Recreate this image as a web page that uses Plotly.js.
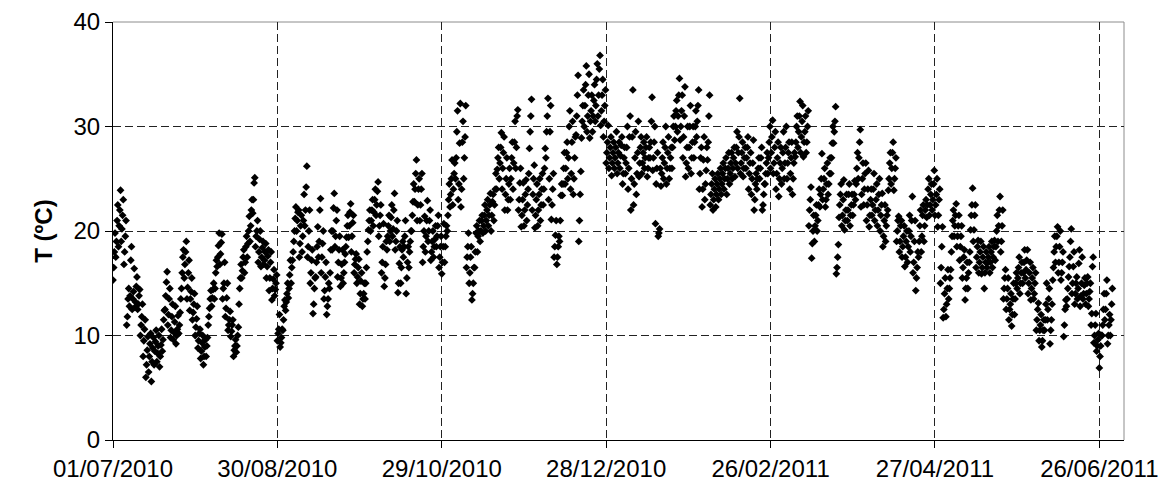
<!DOCTYPE html>
<html>
<head>
<meta charset="utf-8">
<script src="https://cdn.plot.ly/plotly-3.0.1.min.js"></script>
<style>
  html, body { margin: 0; padding: 0; background: #fff; }
  #chart { width: 1160px; height: 486px; }
</style>
</head>
<body>
<div id="chart"></div>
<script>
// Temperature readings (ºC), four readings per day, one inner array per day
const startDate = '2010-07-01';

const jul2010 = [
  [15.3,16.5,18.0,19.8],[17.5,19.0,21.0,22.5],[18.5,20.5,22.0,23.9],[19.0,20.2,21.5,23.0],[16.8,18.0,19.5,21.0],
  [11.0,11.8,13.5,14.5],[12.8,13.8,17.2,18.5],[12.5,13.5,14.2,16.4],[12.7,13.2,14.7,15.6],[12.5,13.0,13.8,14.4],
  [10.0,11.0,11.8,13.0],[8.0,9.5,10.6,11.5],[6.0,7.2,8.6,9.9],[6.5,8.0,9.2,10.2],[5.6,7.5,8.8,9.8],
  [7.2,8.5,9.4,10.5],[7.5,8.3,9.0,10.0],[7.0,8.0,9.1,10.6],[8.5,9.6,11.5,12.4],[12.5,13.8,15.1,16.1],
  [11.0,12.0,13.5,14.5],[9.8,10.5,11.8,13.0],[9.6,10.3,11.3,12.8],[9.2,10.0,10.6,11.9],[10.2,11.0,12.2,13.5],
  [14.5,16.0,17.5,18.2],[15.5,16.8,18.0,19.0],[13.5,14.6,16.0,17.2],[12.4,13.5,14.2,15.5],[11.5,12.2,13.0,14.0],
  [10.0,10.8,11.6,12.8]
];
const aug2010 = [
  [8.8,9.5,10.2,10.6],[7.8,8.5,9.3,10.0],[7.2,8.0,8.9,9.6],[8.0,9.0,9.8,11.0],[11.8,12.6,13.5,14.3],
  [12.8,13.6,14.4,15.0],[13.5,14.5,16.0,17.2],[16.6,17.5,18.6,19.8],[16.8,17.8,18.9,19.7],[13.5,14.5,15.0,17.0],
  [11.8,12.6,13.6,15.0],[10.5,11.0,11.5,12.3],[9.9,10.4,11.0,11.5],[8.0,8.6,9.0,9.6],[8.4,9.0,10.0,10.8],
  [13.0,14.5,15.5,16.8],[15.5,16.2,17.5,18.2],[16.0,17.0,18.5,19.5],[17.5,18.8,20.0,21.4],[19.0,20.5,22.0,23.0],
  [21.7,23.0,24.6,25.1],[18.5,19.5,20.0,21.0],[17.0,18.0,19.2,20.0],[16.6,17.5,18.4,19.0],[16.8,17.2,18.0,18.8],
  [15.5,16.6,17.6,18.2],[14.3,15.5,17.0,18.0],[13.4,14.5,15.4,16.3],[13.8,14.4,15.0,15.8],[9.5,10.2,10.6,12.0],
  [8.9,9.3,9.8,10.6]
];
const sep2010 = [
  [10.5,11.5,12.8,13.4],[12.4,13.2,14.0,15.0],[13.6,14.5,15.8,17.2],[15.0,16.5,17.2,18.0],[19.0,20.0,21.2,22.3],
  [20.0,21.0,21.8,22.0],[17.5,18.8,20.5,21.5],[18.0,19.5,21.0,23.5],[20.5,22.0,24.2,26.2],[17.5,18.5,20.0,22.0],
  [15.0,16.0,17.2,18.2],[12.1,13.0,14.5,15.5],[15.6,17.0,18.5,20.4],[17.5,19.0,22.0,23.1],[16.0,17.5,18.8,20.0],
  [13.5,14.3,15.6,17.0],[12.0,12.8,13.5,15.0],[14.5,16.0,18.2,20.0],[18.2,20.0,22.2,23.6],[18.5,19.5,21.0,22.0],
  [15.6,17.0,18.2,19.5],[14.7,15.5,16.8,18.2],[15.0,16.0,17.0,17.8],[18.5,19.4,20.5,21.5],[19.4,20.5,21.8,22.6],
  [18.0,19.5,20.8,21.5],[16.0,16.8,17.3,17.8],[15.0,15.6,16.5,17.3],[13.0,14.0,15.2,16.0],[12.8,13.5,14.0,15.0]
];
const oct2010 = [
  [13.5,15.0,16.5,18.0],[19.0,20.1,21.0,22.0],[20.0,21.0,22.0,23.0],[20.5,21.8,23.0,24.0],[21.5,22.5,23.8,24.7],
  [19.5,20.5,21.5,22.5],[16.0,17.0,18.5,20.7],[14.7,15.5,16.8,19.0],[18.2,19.5,20.5,21.5],[19.0,20.0,21.3,22.5],
  [19.5,20.2,22.0,23.6],[18.2,19.0,20.0,21.0],[14.1,15.0,16.9,18.5],[15.0,16.5,18.2,19.0],[17.5,18.5,19.5,21.0],
  [14.0,15.5,17.0,18.5],[16.5,18.0,19.0,20.0],[20.0,21.5,22.8,24.5],[22.8,24.0,25.5,26.8],[21.0,22.5,24.0,25.0],
  [21.0,22.5,24.0,25.5],[17.0,18.5,20.0,21.4],[18.0,19.5,21.0,22.9],[19.0,20.0,21.0,22.0],[17.2,18.0,19.0,20.0],
  [17.5,18.5,19.2,20.5],[18.5,19.5,20.5,21.5],[16.5,17.5,18.5,19.5],[15.9,17.0,18.5,20.7],[17.0,18.5,19.5,20.5],
  [20.0,21.5,23.0,24.5]
];
const nov2010 = [
  [22.3,23.5,25.0,26.8],[22.5,24.0,25.5,26.5],[25.0,27.0,29.5,31.5],[23.0,24.5,28.4,32.2],[22.3,24.0,28.5,30.5],
  [25.0,27.0,29.0,32.0],[16.5,17.5,18.5,19.8],[15.0,16.0,17.5,18.5],[13.4,14.0,15.0,16.5],[16.5,18.0,19.8,20.5],
  [18.0,19.5,20.0,21.0],[19.0,20.0,21.0,21.5],[19.8,20.5,21.5,22.5],[20.0,21.0,22.0,23.0],[20.5,21.5,22.5,23.6],
  [20.0,21.5,22.8,23.5],[21.0,22.5,24.0,25.5],[24.0,25.9,27.0,28.0],[25.0,26.5,28.0,29.4],[24.0,26.0,27.5,29.0],
  [22.0,23.5,25.0,27.0],[22.0,23.0,24.5,26.0],[23.0,25.0,27.0,28.5],[24.0,26.5,28.5,30.5],[26.0,28.0,31.0,31.6],
  [22.0,23.0,24.6,26.0],[20.4,21.5,23.0,24.6],[20.5,22.0,23.5,24.9],[21.0,22.5,24.0,25.5],[27.9,29.5,31.0,32.6]
];
const dec2010 = [
  [22.0,23.5,25.0,26.3],[20.3,21.5,23.0,24.5],[20.5,22.0,23.5,25.0],[21.0,22.5,24.0,25.5],[22.5,24.0,26.0,27.9],
  [27.0,29.5,31.0,32.7],[23.0,25.0,29.5,32.0],[21.1,22.5,24.0,25.5],[17.5,18.5,19.6,21.0],[16.8,17.5,18.5,19.5],
  [19.0,21.0,23.4,24.5],[23.4,24.5,26.0,27.5],[24.5,26.0,27.5,28.5],[25.0,27.0,30.0,31.5],[24.0,25.5,28.5,30.5],
  [23.5,25.0,27.0,29.0],[29.2,31.0,33.0,34.9],[19.0,21.0,23.5,25.7],[28.9,30.5,32.0,33.5],[30.0,32.0,34.0,35.8],
  [29.5,31.0,33.0,35.0],[28.9,30.5,31.5,33.0],[29.5,31.0,32.5,34.0],[30.5,32.0,34.5,36.0],[31.0,33.0,35.5,36.8],
  [30.1,31.5,33.0,34.5],[29.0,30.5,32.0,33.5],[26.5,27.5,28.5,30.1],[26.0,27.0,28.0,29.0],[25.3,26.5,27.5,28.5],
  [26.0,27.0,28.0,29.5]
];
const jan2011 = [
  [25.5,26.5,27.5,28.5],[26.0,27.2,28.2,29.0],[24.5,25.5,27.0,28.0],[25.5,26.5,28.0,30.0],[24.0,26.0,29.0,31.0],
  [22.0,25.0,29.0,33.5],[22.5,24.5,27.0,29.5],[23.5,25.5,27.5,30.5],[25.2,26.5,28.0,29.0],[25.5,26.5,27.5,28.5],
  [26.0,27.0,28.0,29.0],[25.2,26.0,27.0,28.0],[27.0,28.5,30.5,32.8],[25.8,27.0,28.5,30.0],[20.7,24.5,26.0,27.5],
  [19.5,19.8,20.2,26.0],[24.3,25.5,27.0,28.5],[25.0,26.5,28.0,30.0],[24.5,26.0,27.5,29.0],[25.0,26.0,27.0,28.0],
  [26.0,28.0,30.0,31.0],[28.7,30.0,31.5,32.5],[29.5,31.0,33.0,34.6],[28.7,30.0,31.5,33.0],[27.0,29.0,31.0,33.8],
  [25.2,26.5,28.0,30.0],[26.0,28.0,30.0,32.0],[25.5,27.0,28.5,30.0],[27.0,28.5,30.0,31.5],[29.0,30.5,32.0,33.5],
  [24.0,25.5,27.0,28.0]
];
const feb2011 = [
  [22.3,24.0,26.8,29.0],[23.0,24.5,25.8,28.0],[26.8,28.5,31.0,33.0],[22.5,23.5,24.5,25.5],[22.0,23.0,24.0,25.0],
  [22.3,23.5,24.5,25.5],[23.0,24.0,25.0,26.0],[23.5,24.5,25.5,26.5],[24.0,25.0,26.0,27.0],[23.5,25.0,26.0,27.5],
  [24.5,25.5,26.5,27.5],[25.0,26.0,27.0,28.0],[25.2,26.5,28.0,29.5],[26.0,27.5,29.0,32.7],[25.5,26.5,27.5,28.5],
  [25.2,26.0,27.0,28.0],[26.0,27.0,28.0,29.0],[24.0,25.5,26.5,27.5],[23.5,25.0,26.5,28.7],[22.0,23.0,24.5,25.5],
  [24.0,25.0,26.0,27.0],[25.0,26.0,27.0,28.0],[22.0,22.5,23.5,24.5],[24.5,25.5,26.5,27.5],[25.5,27.0,28.5,30.0],
  [26.0,27.5,29.0,30.6],[25.5,26.5,28.0,29.5],[24.0,25.5,27.0,28.5]
];
const mar2011 = [
  [23.3,25.0,26.5,28.0],[24.5,26.0,27.5,29.5],[25.0,26.5,28.0,30.0],[25.0,26.5,27.5,28.5],[24.0,25.5,27.0,28.5],
  [23.5,25.0,26.5,27.5],[27.1,28.5,30.0,31.0],[28.0,29.5,31.0,32.4],[27.5,29.0,30.5,32.0],[27.1,28.5,29.5,31.0],
  [27.5,28.5,30.0,31.5],[20.5,22.0,23.0,24.2],[17.4,18.8,20.0,21.5],[19.0,20.5,21.5,22.5],[20.0,21.0,22.5,24.0],
  [22.3,23.5,25.0,27.4],[23.0,24.0,25.0,26.0],[22.3,23.0,24.5,26.5],[23.5,24.5,25.5,27.0],[25.5,27.0,28.4,30.0],
  [28.4,29.5,30.5,31.9],[15.9,16.5,17.5,18.7],[21.3,22.5,23.5,24.5],[20.5,21.5,23.0,24.9],[20.1,21.0,22.0,23.5],
  [21.0,22.0,23.5,24.5],[20.5,21.5,22.5,23.5],[21.5,22.5,23.5,24.8],[23.0,24.5,26.0,27.5],[25.0,27.0,28.5,29.7],
  [22.3,23.5,25.0,26.5]
];
const apr2011 = [
  [22.5,24.0,25.5,26.5],[21.0,22.5,24.0,25.8],[20.4,21.5,23.0,24.0],[21.5,22.5,24.0,25.5],[21.0,22.0,23.0,24.5],
  [20.5,22.0,23.5,25.0],[20.0,21.5,22.5,23.6],[18.5,19.5,21.0,22.5],[19.0,20.5,21.5,22.0],[23.9,25.0,26.5,27.5],
  [24.5,26.0,27.5,28.5],[23.9,25.0,26.0,27.0],[19.0,20.0,21.0,21.4],[18.0,19.0,20.5,21.0],[17.5,18.5,19.5,20.5],
  [16.6,17.5,19.0,20.0],[17.0,18.5,20.0,21.5],[18.0,19.5,21.0,23.3],[16.0,17.0,19.0,21.0],[14.3,15.5,16.5,18.0],
  [17.5,19.0,20.5,22.0],[18.0,19.5,21.5,22.5],[19.0,20.5,22.0,23.0],[21.3,22.5,24.0,25.0],[21.5,22.5,23.5,24.5],
  [22.0,23.0,24.5,25.8],[21.5,22.5,23.5,25.0],[20.4,21.5,23.0,24.0],[15.0,16.5,18.5,20.4],[11.7,12.5,14.0,15.5]
];
const may2011 = [
  [11.8,13.0,14.5,16.3],[13.5,14.5,15.5,16.3],[18.0,19.5,21.0,22.0],[19.5,20.5,21.5,22.6],[18.5,19.5,20.5,21.5],
  [17.2,18.5,19.5,20.5],[15.5,16.5,17.5,18.2],[13.4,14.5,15.5,17.0],[14.5,16.0,17.0,18.0],[20.1,21.5,22.5,24.1],
  [19.0,20.1,21.5,22.5],[16.5,17.5,18.5,19.1],[16.0,17.0,18.0,19.0],[15.9,16.5,17.5,18.5],[14.5,16.0,17.0,18.0],
  [16.5,17.0,17.5,18.5],[16.0,17.0,18.0,19.0],[16.5,17.5,18.5,19.1],[17.2,18.5,20.0,21.5],[19.0,20.5,22.0,23.3],
  [18.0,19.0,20.5,22.0],[13.5,14.5,15.5,16.3],[12.5,13.5,14.5,15.5],[11.5,12.5,13.0,14.0],[10.9,12.0,13.5,15.0],
  [12.0,13.5,15.0,16.0],[14.5,15.5,16.5,17.5],[14.0,15.0,16.0,17.0],[15.0,16.0,17.0,18.2],[15.5,16.3,17.2,18.2],
  [14.0,15.0,16.0,17.0]
];
const jun2011 = [
  [13.4,14.5,15.5,16.5],[13.5,14.0,15.0,16.0],[10.5,11.5,12.5,13.1],[9.5,10.5,11.0,12.0],[8.9,9.5,10.5,11.5],
  [10.5,11.5,13.0,15.0],[11.5,12.5,13.5,14.5],[9.2,10.5,11.5,13.0],[15.3,16.5,18.0,19.5],[17.0,18.5,19.5,20.4],
  [16.0,17.0,18.5,20.0],[15.3,16.0,17.0,18.0],[9.9,11.0,12.5,13.4],[12.8,13.5,14.5,15.6],[16.6,17.5,19.0,20.2],
  [14.0,15.0,16.6,18.0],[13.0,14.0,15.0,15.6],[13.5,14.5,16.9,18.2],[12.8,13.8,15.0,17.5],[13.5,14.0,14.8,15.5],
  [13.0,14.0,15.0,15.6],[12.8,13.5,14.2,15.0],[11.0,12.1,16.6,17.5],[9.3,10.0,11.0,12.1],[8.5,9.0,9.6,10.2],
  [6.9,8.0,9.0,10.0],[10.0,11.0,12.5,14.0],[11.5,12.5,14.0,15.3],[9.2,10.0,11.0,12.0],[10.0,11.5,13.0,14.5]
];

const tickDates = ['2010-07-01','2010-08-30','2010-10-29','2010-12-28','2011-02-26','2011-04-27','2011-06-26'];
const tickLabels = ['01/07/2010','30/08/2010','29/10/2010','28/12/2010','26/02/2011','27/04/2011','26/06/2011'];
const xRange = ['2010-07-01', '2011-07-05'];
const yTicks = [0, 10, 20, 30, 40];

// Build the series: each day's readings at 00h, 06h, 12h, 18h
const months = [jul2010, aug2010, sep2010, oct2010, nov2010, dec2010, jan2011, feb2011, mar2011, apr2011, may2011, jun2011];
const days = [].concat(...months);
const t0 = Date.parse(startDate + 'T00:00:00Z');
const xs = [], ys = [];
days.forEach((readings, d) => {
  readings.forEach((v, j) => {
    const t = new Date(t0 + (d * 24 + j * 6) * 3600 * 1000);
    xs.push(t.toISOString().slice(0, 16).replace('T', ' '));
    ys.push(v);
  });
});

const FONT = 'Liberation Sans, Arial, sans-serif';
const trace = {
  type: 'scatter', mode: 'markers', x: xs, y: ys,
  marker: { symbol: 'diamond', size: 6, color: '#000', line: { width: 0 } },
  hoverinfo: 'skip'
};

const layout = {
  width: 1160, height: 486,
  margin: { l: 113, r: 36, t: 22, b: 46 },
  paper_bgcolor: '#fff', plot_bgcolor: '#fff',
  showlegend: false,
  font: { family: FONT, color: '#000', size: 24 },
  xaxis: {
    type: 'date', range: xRange, autorange: false,
    tickmode: 'array', tickvals: tickDates, ticktext: tickLabels,
    ticks: 'outside', ticklen: 7, tickcolor: '#000', tickwidth: 1,
    showline: true, linecolor: '#000', linewidth: 1,
    showgrid: true, gridcolor: '#222', gridwidth: 1, griddash: '8px,4px',
    zeroline: false,
    tickfont: { family: FONT, size: 24, color: '#000' },
    automargin: false
  },
  yaxis: {
    range: [0, 40], autorange: false,
    tickmode: 'array', tickvals: yTicks,
    ticks: 'outside', ticklen: 7, tickcolor: '#000', tickwidth: 1,
    showline: true, linecolor: '#000', linewidth: 1,
    showgrid: true, gridcolor: '#222', gridwidth: 1, griddash: '8px,4px',
    zeroline: false,
    tickfont: { family: FONT, size: 24, color: '#000' },
    title: { text: '<b>T (ºC)</b>', font: { family: FONT, size: 24, color: '#000' }, standoff: 14 },
    automargin: false
  },
  shapes: [
    { type: 'line', xref: 'paper', yref: 'paper', x0: 1, x1: 1, y0: 0, y1: 1, line: { color: '#8c8c8c', width: 1 }, layer: 'below' },
    { type: 'line', xref: 'paper', yref: 'paper', x0: 0, x1: 1, y0: 1, y1: 1, line: { color: '#8c8c8c', width: 1 }, layer: 'below' }
  ]
};

Plotly.newPlot('chart', [trace], layout, { staticPlot: true, displayModeBar: false });
</script>
</body>
</html>
